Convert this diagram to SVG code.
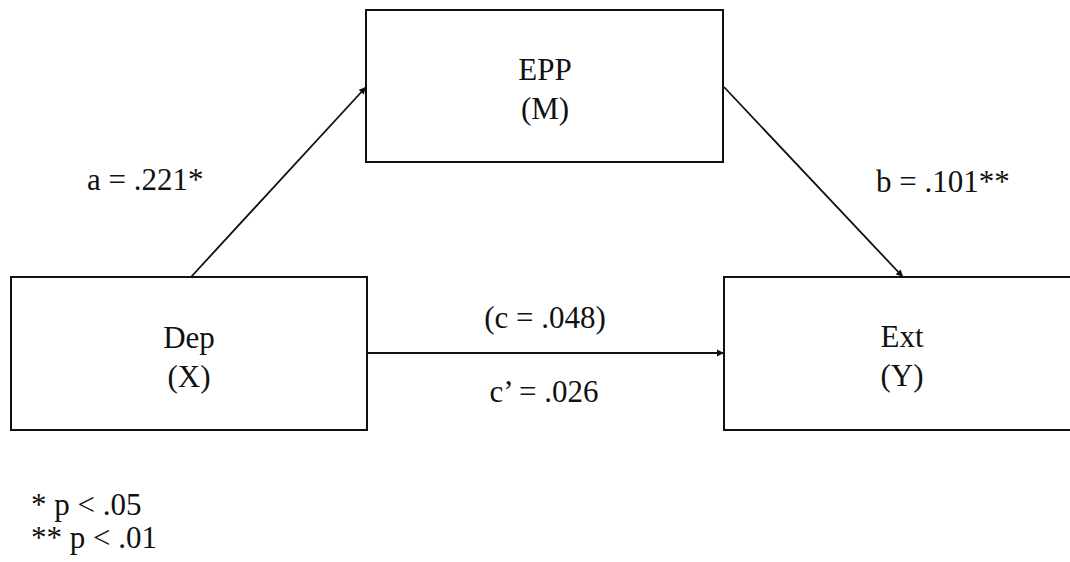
<svg xmlns="http://www.w3.org/2000/svg" width="1070" height="562" viewBox="0 0 1070 562">
<style>
  .box { fill: #fff; stroke: #111; stroke-width: 2; }
  .lbl { font-family: "Liberation Serif", "Times New Roman", serif; font-size: 31px; fill: #111; }
  .mid { text-anchor: middle; }
  .edge { stroke: #111; stroke-width: 1.8; fill: none; marker-end: url(#arr); }
</style>
<defs>
  <marker id="arr" viewBox="0 0 10 10" refX="10" refY="5" markerWidth="7" markerHeight="7" markerUnits="userSpaceOnUse" orient="auto" overflow="visible">
    <path d="M0,0 L10,5 L0,10 z" fill="#111"/>
  </marker>
</defs>
<rect width="1070" height="562" fill="#fff"/>
<g id="connectors">
  <line class="edge" x1="191" y1="277" x2="366" y2="87"/>
  <line class="edge" x1="724" y1="87" x2="903" y2="277"/>
  <line class="edge" x1="367" y1="353" x2="724" y2="353"/>
</g>
<g id="node-dep">
  <rect class="box" x="11" y="277" width="356" height="153"/>
  <text class="lbl mid" x="189" y="348">Dep</text>
  <text class="lbl mid" x="189" y="387">(X)</text>
</g>
<g id="node-epp">
  <rect class="box" x="366" y="10" width="357" height="152"/>
  <text class="lbl mid" x="545" y="80">EPP</text>
  <text class="lbl mid" x="545" y="119">(M)</text>
</g>
<g id="node-ext">
  <rect class="box" x="724" y="277" width="356" height="153"/>
  <text class="lbl mid" x="902" y="347">Ext</text>
  <text class="lbl mid" x="902" y="386">(Y)</text>
</g>
<g id="labels">
  <text class="lbl" x="87" y="190">a = .221*</text>
  <text class="lbl" x="876" y="192">b = .101**</text>
  <text class="lbl mid" x="545" y="328">(c = .048)</text>
  <text class="lbl mid" x="544" y="402">c’ = .026</text>
  <text class="lbl" x="31" y="515">* p &lt; .05</text>
  <text class="lbl" x="31" y="548">** p &lt; .01</text>
</g>
</svg>
